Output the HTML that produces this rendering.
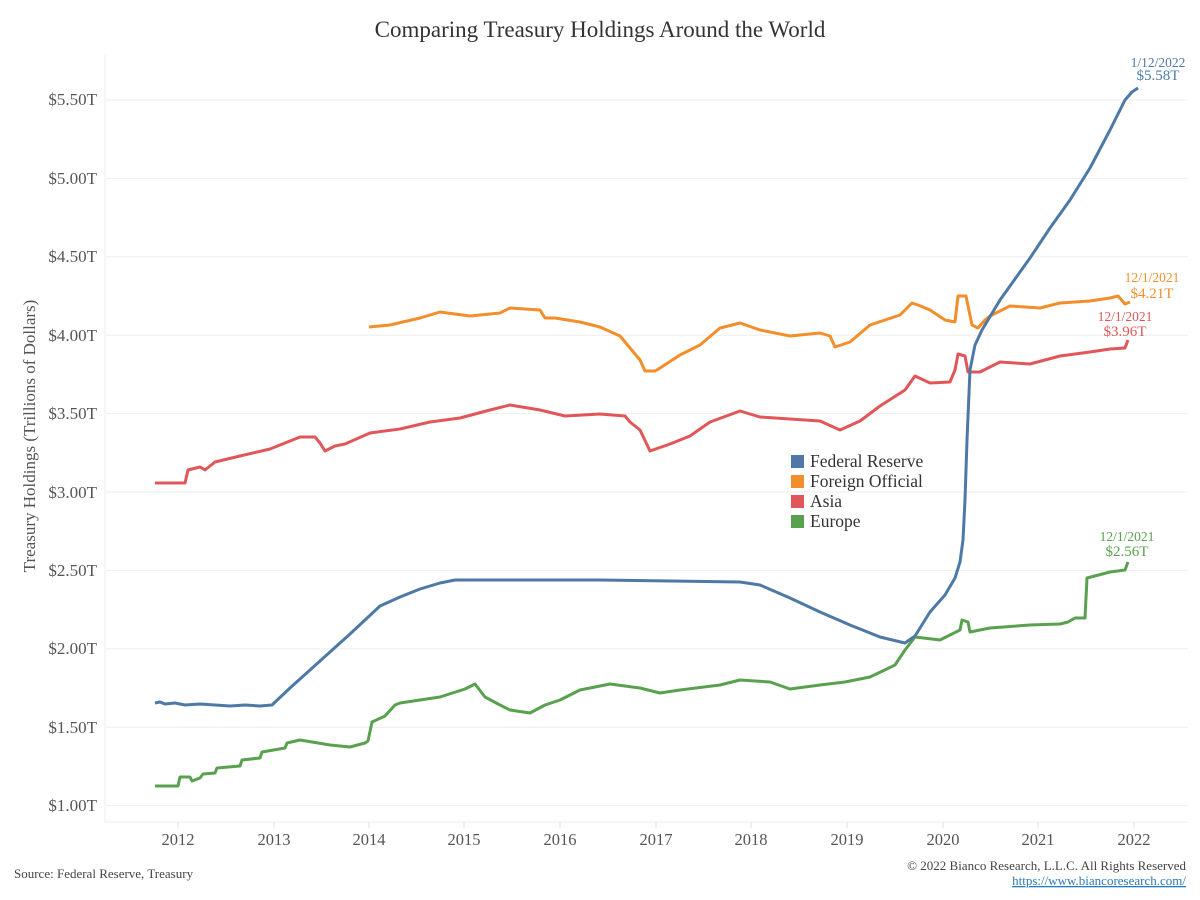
<!DOCTYPE html>
<html><head><meta charset="utf-8"><style>
html,body{margin:0;padding:0;background:#fff;}
svg{display:block;font-family:"Liberation Serif",serif;}
</style></head><body>
<svg width="1200" height="900" viewBox="0 0 1200 900">
<text x="600" y="37" text-anchor="middle" font-size="23" fill="#333">Comparing Treasury Holdings Around the World</text>
<g stroke="#eeeeee" stroke-width="1">
<line x1="105" y1="100" x2="1188" y2="100"/>
<line x1="105" y1="178.4" x2="1188" y2="178.4"/>
<line x1="105" y1="256.8" x2="1188" y2="256.8"/>
<line x1="105" y1="335.2" x2="1188" y2="335.2"/>
<line x1="105" y1="413.6" x2="1188" y2="413.6"/>
<line x1="105" y1="492" x2="1188" y2="492"/>
<line x1="105" y1="570.4" x2="1188" y2="570.4"/>
<line x1="105" y1="648.8" x2="1188" y2="648.8"/>
<line x1="105" y1="727.2" x2="1188" y2="727.2"/>
<line x1="105" y1="805.6" x2="1188" y2="805.6"/>
<line x1="105" y1="55" x2="105" y2="822"/>
<line x1="105" y1="822" x2="1188" y2="822"/>
</g>
<g stroke="#ddd" stroke-width="1">
<line x1="178" y1="822" x2="178" y2="828"/><line x1="274" y1="822" x2="274" y2="828"/><line x1="369" y1="822" x2="369" y2="828"/><line x1="464" y1="822" x2="464" y2="828"/><line x1="560" y1="822" x2="560" y2="828"/><line x1="656" y1="822" x2="656" y2="828"/><line x1="751" y1="822" x2="751" y2="828"/><line x1="847" y1="822" x2="847" y2="828"/><line x1="943" y1="822" x2="943" y2="828"/><line x1="1038" y1="822" x2="1038" y2="828"/><line x1="1134" y1="822" x2="1134" y2="828"/>
</g>
<g font-size="17" fill="#555" text-anchor="end">
<text x="97" y="105">$5.50T</text><text x="97" y="184">$5.00T</text><text x="97" y="262">$4.50T</text><text x="97" y="341">$4.00T</text><text x="97" y="419">$3.50T</text><text x="97" y="498">$3.00T</text><text x="97" y="576">$2.50T</text><text x="97" y="654">$2.00T</text><text x="97" y="733">$1.50T</text><text x="97" y="811">$1.00T</text>
</g>
<g font-size="16.5" fill="#555" text-anchor="middle">
<text x="178" y="845">2012</text><text x="274" y="845">2013</text><text x="369" y="845">2014</text><text x="464" y="845">2015</text><text x="560" y="845">2016</text><text x="656" y="845">2017</text><text x="751" y="845">2018</text><text x="847" y="845">2019</text><text x="943" y="845">2020</text><text x="1038" y="845">2021</text><text x="1134" y="845">2022</text>
</g>
<text transform="translate(35,436) rotate(-90)" text-anchor="middle" font-size="17" fill="#555">Treasury Holdings (Trillions of Dollars)</text>
<g fill="none" stroke-width="3" stroke-linejoin="round">
<polyline stroke="#59a14f" points="155,786 178,786 180,777 190,777 192,781 200,778 203,774 215,773 217,768 240,766 242,760 260,758 262,752 285,748 287,743 300,740 330,745 350,747 365,743 368,741 372,722 385,716 395,705 400,703 420,700 440,697 465,689 475,684 485,697 500,705 510,710 530,713 545,705 560,700 580,690 610,684 640,688 660,693 680,690 720,685 740,680 770,682 790,689 820,685 845,682 870,677 895,665 905,650 915,637 940,640 960,630 962,620 968,622 970,632 990,628 1030,625 1060,624 1068,622 1075,618 1085,618 1087,578 1110,572 1125,570 1128,562"/>
<polyline stroke="#e15759" points="155,483 185,483 188,470 200,467 205,470 215,462 240,456 270,449 300,437 315,437 320,443 325,451 335,446 345,444 370,433 400,429 430,422 460,418 490,410 510,405 540,410 565,416 600,414 625,416 630,422 640,430 650,451 670,444 690,436 710,422 740,411 760,417 790,419 820,421 840,430 860,421 880,406 905,390 915,376 930,383 950,382 955,370 958,354 965,356 968,372 980,372 1000,362 1030,364 1060,356 1090,352 1110,349 1125,348 1128,340"/>
<polyline stroke="#f28e2b" points="369,327 390,325 420,318 440,312 470,316 500,313 510,308 540,310 545,318 555,318 580,322 600,327 620,336 630,348 640,360 645,371 655,371 660,368 680,355 700,345 720,328 740,323 760,330 790,336 820,333 830,336 835,347 850,342 870,325 900,315 912,303 918,305 930,310 945,320 955,322 958,296 966,296 972,325 978,328 985,320 990,316 1010,306 1040,308 1060,303 1090,301 1110,298 1118,296 1125,304 1130,302"/>
<polyline stroke="#4e79a7" points="155,703 160,702 165,704 175,703 185,705 200,704 215,705 230,706 245,705 260,706 272,705 290,688 310,670 330,652 350,634 365,620 380,606 400,597 420,589 440,583 455,580 464,580 600,580 740,582 760,585 790,598 820,612 850,625 880,637 905,643 915,636 930,612 945,595 955,578 960,562 963,540 965,500 967,440 970,370 975,345 982,330 1000,300 1030,258 1050,228 1070,200 1090,168 1110,130 1125,100 1132,92 1138,88"/>
</g>
<g font-size="13.5" text-anchor="middle">
<text x="1158" y="67" fill="#4e79a7">1/12/2022</text><text x="1158" y="80" fill="#4e79a7" font-size="15">$5.58T</text>
<text x="1152" y="282" fill="#f28e2b">12/1/2021</text><text x="1152" y="298" fill="#f28e2b" font-size="15">$4.21T</text>
<text x="1125" y="321" fill="#e15759">12/1/2021</text><text x="1125" y="336" fill="#e15759" font-size="15">$3.96T</text>
<text x="1127" y="541" fill="#59a14f">12/1/2021</text><text x="1127" y="556" fill="#59a14f" font-size="15">$2.56T</text>
</g>
<g font-size="17.5" fill="#333">
<rect x="791" y="455" width="13" height="13" fill="#4e79a7"/><text x="810" y="467">Federal Reserve</text>
<rect x="791" y="475" width="13" height="13" fill="#f28e2b"/><text x="810" y="487">Foreign Official</text>
<rect x="791" y="495" width="13" height="13" fill="#e15759"/><text x="810" y="507">Asia</text>
<rect x="791" y="515" width="13" height="13" fill="#59a14f"/><text x="810" y="527">Europe</text>
</g>
<text x="14" y="878" font-size="13" fill="#444">Source: Federal Reserve, Treasury</text>
<text x="1186" y="870" font-size="13" fill="#444" text-anchor="end">© 2022 Bianco Research, L.L.C. All Rights Reserved</text>
<text x="1186" y="885" font-size="13" fill="#2a7ab8" text-anchor="end" text-decoration="underline">https://www.biancoresearch.com/</text>
</svg>
</body></html>
